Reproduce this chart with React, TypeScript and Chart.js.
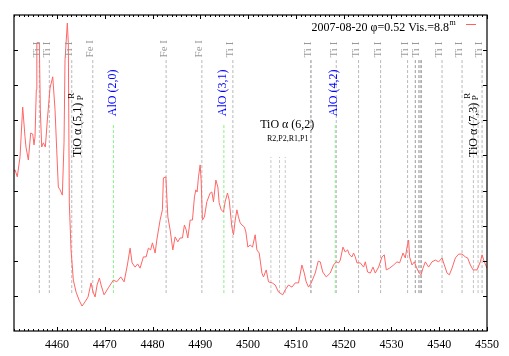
import React, { useEffect, useRef } from 'react';
import { Chart, registerables } from 'chart.js';

Chart.register(...registerables);

// ---- spectrum (wavelength in Å, relative flux) ----
const WAVE = [
  4451.0, 4451.21, 4451.69, 4452.26, 4452.82, 4453.30, 4453.51, 4454.00, 4454.50, 4454.92,
  4455.19, 4455.40, 4455.67, 4455.78, 4456.30, 4456.51, 4456.80, 4457.14, 4457.56, 4457.98,
  4458.54, 4459.11, 4459.59, 4459.94, 4460.28, 4460.64, 4461.12, 4461.47, 4461.68, 4462.16,
  4462.37, 4462.58, 4462.94, 4463.42, 4463.99, 4464.62, 4465.24, 4465.87, 4466.50, 4467.13,
  4467.55, 4467.97, 4468.39, 4468.87, 4469.22, 4469.85, 4470.75, 4471.80, 4472.51, 4473.35,
  4474.04, 4474.73, 4475.30, 4475.72, 4476.35, 4476.87, 4477.39, 4478.08, 4478.65, 4479.13,
  4479.59, 4479.97, 4480.54, 4480.89, 4481.58, 4482.06, 4482.27, 4482.78, 4483.20, 4483.68,
  4484.24, 4484.72, 4485.29, 4485.77, 4486.25, 4486.67, 4487.03, 4487.38, 4487.87, 4488.35,
  4488.77, 4489.06, 4489.33, 4489.61, 4489.96, 4490.17, 4490.44, 4490.86, 4491.36, 4492.06,
  4492.41, 4492.75, 4493.25, 4493.67, 4493.94, 4494.36, 4494.84, 4495.20, 4495.68, 4496.04,
  4496.60, 4496.94, 4497.30, 4497.65, 4497.98, 4498.34, 4498.70, 4499.24, 4499.53, 4499.95,
  4500.43, 4500.92, 4501.48, 4501.84, 4502.32, 4502.89, 4503.22, 4503.79, 4504.27, 4505.04,
  4505.67, 4506.36, 4507.24, 4507.77, 4508.46, 4509.17, 4509.86, 4510.55, 4511.26, 4511.75,
  4512.16, 4512.65, 4513.21, 4514.05, 4514.68, 4515.10, 4515.62, 4516.35, 4517.19, 4517.88,
  4518.45, 4518.97, 4519.29, 4519.85, 4520.33, 4520.82, 4521.23, 4521.74, 4522.07, 4522.43,
  4522.79, 4523.48, 4524.17, 4524.53, 4525.01, 4525.58, 4526.14, 4526.62, 4527.31, 4528.02,
  4528.50, 4528.92, 4529.61, 4530.45, 4531.16, 4531.71, 4532.42, 4532.90, 4533.26, 4533.59,
  4533.80, 4534.31, 4534.79, 4535.21, 4535.69, 4536.19, 4536.61, 4537.09, 4537.78, 4538.49,
  4539.18, 4539.88, 4540.59, 4541.07, 4541.64, 4542.12, 4542.68, 4543.38, 4544.07, 4544.78,
  4545.47, 4545.95, 4546.52, 4547.08, 4547.92, 4548.61, 4548.97, 4549.31, 4549.98,
];
const FLUX = [
  4.55, 4.59, 4.39, 4.96, 6.38, 5.53, 5.24, 4.87, 5.64, 5.61,
  5.30, 5.53, 6.87, 8.21, 8.21, 6.30, 5.24, 5.36, 5.24, 6.01,
  6.92, 7.24, 6.30, 5.16, 4.10, 4.02, 3.87, 5.36, 7.72, 8.77,
  8.21, 3.65, 2.31, 1.45, 1.11, 0.88, 0.71, 0.83, 0.97, 1.37,
  1.11, 0.97, 1.31, 1.51, 1.31, 1.03, 1.23, 1.45, 1.40, 1.54,
  1.40, 1.88, 2.36, 1.94, 1.82, 1.91, 1.79, 2.11, 2.11, 2.36,
  2.31, 2.51, 2.22, 2.59, 3.16, 3.45, 4.36, 4.39, 3.25, 2.88,
  2.31, 2.68, 2.54, 2.65, 2.65, 3.02, 2.88, 2.65, 3.16, 3.16,
  3.82, 4.02, 3.96, 4.39, 4.73, 4.30, 3.16, 3.25, 3.68, 3.93,
  3.96, 3.68, 4.30, 4.10, 3.65, 3.45, 3.39, 3.68, 3.93, 3.73,
  2.96, 2.74, 3.16, 3.45, 3.25, 3.08, 3.02, 2.96, 2.82, 2.39,
  2.45, 2.39, 2.74, 2.31, 2.22, 1.65, 1.54, 1.74, 1.40, 1.37,
  1.31, 1.11, 1.03, 1.17, 1.31, 1.25, 1.37, 1.37, 1.88, 1.65,
  1.40, 1.25, 1.37, 1.65, 1.99, 1.97, 1.68, 1.54, 1.65, 1.88,
  1.97, 1.94, 2.02, 2.39, 2.25, 2.31, 2.17, 2.11, 2.22, 2.11,
  1.94, 1.94, 1.82, 1.97, 1.68, 1.65, 1.82, 1.65, 1.82, 2.11,
  2.17, 1.74, 1.79, 1.88, 1.97, 1.94, 2.22, 2.08, 2.39, 2.59,
  2.11, 1.88, 1.97, 1.82, 1.68, 1.60, 1.79, 1.97, 1.82, 1.97,
  2.02, 1.97, 2.08, 1.88, 1.65, 1.60, 1.79, 2.08, 2.19, 2.19,
  2.11, 2.08, 1.88, 1.74, 1.74, 1.97, 2.17, 2.02, 1.79,
];

const X_TICKS = [4460, 4470, 4480, 4490, 4500, 4510, 4520, 4530, 4540, 4550];

// ---- line identifications ----
const ATOM_WL = [
  4456.30, 4458.39, 4463.09, 4467.49, 4482.84, 4490.32, 4496.81, 4513.15,
  4518.45, 4523.12, 4527.73, 4533.38, 4535.69, 4540.59, 4544.78, 4548.97,
];
const ATOM_LABEL = [
  'Ti I', 'Ti I', 'Ti I', 'Fe I', 'Fe I', 'Fe I', 'Ti I', 'Ti I',
  'Ti I', 'Ti I', 'Ti I', 'Ti I', 'Ti I', 'Ti I', 'Ti I', 'Ti I',
];
const EXTRA_WL = [4534.99, 4535.98, 4536.25];
const ALO_WL = [4471.80, 4494.93, 4518.24];
const ALO_LABEL = ['AlO (2,0)', 'AlO (3,1)', 'AlO (4,2)'];
const TIO62_WL = [4504.77, 4506.57, 4507.77];
const TIO62_TITLE = 'TiO α (6,2)';
const TIO62_SUB = 'R2,P2,R1,P1';
const TIO62_CENTER = 4508.19;
const TIO_HEAD_WL = [4465.18, 4547.15, 4548.13];
const TIO_BAND_WL = [4464.41, 4547.15];
const TIO_BAND_LABEL = ['TiO α (5,1)', 'TiO α (7,3)'];
const LEGEND_TEXT = '2007-08-20 φ=0.52 Vis.=8.8';
const LEGEND_SUP = 'm';

const SERIF = "'Liberation Serif', 'Times New Roman', serif";
const LINE_BOTTOM = 1.08;

function vline(wl: number, top: number, color: string) {
  return {
    type: 'line' as const,
    data: [{ x: wl, y: LINE_BOTTOM }, { x: wl, y: top }],
    borderColor: color,
    borderWidth: 1,
    borderDash: [3, 2],
    pointRadius: 0,
    fill: false,
  };
}

function vtext(ctx: CanvasRenderingContext2D, s: string, x: number, y: number, align: CanvasTextAlign) {
  ctx.save();
  ctx.translate(x, y);
  ctx.rotate(-Math.PI / 2);
  ctx.textAlign = align;
  ctx.textBaseline = 'middle';
  ctx.fillText(s, 0, 0);
  ctx.restore();
}

const decor = {
  id: 'decor',
  afterDatasetsDraw(chart: any) {
    const { ctx, chartArea: a, scales } = chart;
    const xs = scales.x;
    const ys = scales.y;
    ctx.save();

    // frame
    ctx.strokeStyle = '#000';
    ctx.lineWidth = 1.2;
    ctx.strokeRect(a.left, a.top, a.right - a.left, a.bottom - a.top);

    // ticks (inward, mirrored)
    ctx.lineWidth = 1;
    ctx.beginPath();
    for (let w = Math.ceil(xs.min); w <= xs.max; w++) {
      const px = Math.round(xs.getPixelForValue(w)) + 0.5;
      const len = w % 10 === 0 ? 4 : 2;
      ctx.moveTo(px, a.bottom);
      ctx.lineTo(px, a.bottom - len);
      ctx.moveTo(px, a.top);
      ctx.lineTo(px, a.top + len);
    }
    for (let v = ys.min + 1; v < ys.max; v++) {
      const py = Math.round(ys.getPixelForValue(v)) + 0.5;
      ctx.moveTo(a.left, py);
      ctx.lineTo(a.left + 4, py);
      ctx.moveTo(a.right, py);
      ctx.lineTo(a.right - 4, py);
    }
    ctx.stroke();

    // atomic line labels
    ctx.fillStyle = '#999';
    ctx.font = `11px ${SERIF}`;
    ATOM_WL.forEach((w, i) => {
      vtext(ctx, ATOM_LABEL[i], xs.getPixelForValue(w) - 2.5, ys.getPixelForValue(7.79), 'left');
    });

    // AlO labels
    ctx.fillStyle = '#0000ff';
    ctx.font = `12px ${SERIF}`;
    ALO_WL.forEach((w, i) => {
      vtext(ctx, ALO_LABEL[i], xs.getPixelForValue(w) - 1, ys.getPixelForValue(6.78), 'center');
    });

    // TiO band labels
    ctx.fillStyle = '#000';
    TIO_BAND_WL.forEach((w, i) => {
      const px = xs.getPixelForValue(w);
      ctx.font = `12px ${SERIF}`;
      vtext(ctx, TIO_BAND_LABEL[i], px, ys.getPixelForValue(5.73), 'center');
      ctx.font = `9px ${SERIF}`;
      vtext(ctx, 'R', px - 6, ys.getPixelForValue(6.70), 'center');
      vtext(ctx, 'P', px + 2.5, ys.getPixelForValue(6.64), 'center');
    });

    // TiO (6,2)
    ctx.textAlign = 'center';
    ctx.textBaseline = 'middle';
    ctx.font = `12px ${SERIF}`;
    ctx.fillText(TIO62_TITLE, xs.getPixelForValue(TIO62_CENTER), ys.getPixelForValue(5.87));
    ctx.font = `8px ${SERIF}`;
    ctx.fillText(TIO62_SUB, xs.getPixelForValue(TIO62_CENTER) + 0.5, ys.getPixelForValue(5.46));

    // key
    ctx.font = `12px ${SERIF}`;
    ctx.textAlign = 'right';
    ctx.textBaseline = 'alphabetic';
    ctx.fillStyle = '#000';
    const kx = a.right - 32;
    ctx.fillText(LEGEND_TEXT, kx - 6, a.top + 16);
    ctx.font = `8px ${SERIF}`;
    ctx.textAlign = 'left';
    ctx.fillText(LEGEND_SUP, kx - 5.5, a.top + 10);
    ctx.strokeStyle = '#ff6060';
    ctx.lineWidth = 1;
    ctx.beginPath();
    ctx.moveTo(kx + 11, a.top + 9.5);
    ctx.lineTo(kx + 21, a.top + 9.5);
    ctx.stroke();

    ctx.restore();
  },
};

export default function App() {
  const ref = useRef<HTMLCanvasElement>(null);

  useEffect(() => {
    if (!ref.current) return;
    const spectrum = {
      type: 'line' as const,
      data: WAVE.map((w, i) => ({ x: w, y: FLUX[i] })),
      borderColor: '#ff6666',
      borderWidth: 1,
      pointRadius: 0,
      tension: 0,
      fill: false,
    };
    const datasets: any[] = [spectrum];
    ATOM_WL.forEach((w, i) => datasets.push(vline(w, 7.72, i === 7 ? '#888888' : '#b8b8b8')));
    EXTRA_WL.forEach((w) => datasets.push(vline(w, 7.72, '#999999')));
    ALO_WL.forEach((w) => datasets.push(vline(w, 5.87, '#88ee88')));
    TIO62_WL.forEach((w) => datasets.push(vline(w, 4.96, '#c8c8c8')));
    TIO_HEAD_WL.forEach((w) => datasets.push(vline(w, 6.5, '#c0c0c0')));

    const chart = new Chart(ref.current, {
      type: 'line',
      data: { datasets },
      options: {
        animation: false,
        responsive: false,
        devicePixelRatio: 1,
        layout: { padding: { left: 14, top: 15, right: 22, bottom: 0 } },
        plugins: { legend: { display: false }, tooltip: { enabled: false } },
        scales: {
          x: {
            type: 'linear',
            min: 4451,
            max: 4550,
            grid: { display: false, drawTicks: false },
            border: { display: false },
            afterBuildTicks: (scale: any) => {
              scale.ticks = X_TICKS.map((v) => ({ value: v }));
            },
            afterFit: (scale: any) => {
              scale.height = 25;
            },
            ticks: {
              autoSkip: false,
              maxRotation: 0,
              padding: 7,
              color: '#000',
              font: { family: SERIF, size: 12 },
              callback: (v: any) => `${v}`,
            },
          },
          y: {
            type: 'linear',
            min: 0,
            max: 9,
            display: false,
          },
        },
      },
      plugins: [decor],
    });
    return () => chart.destroy();
  }, []);

  return (
    <div style={{ position: 'absolute', left: 0, top: 0, width: 509, height: 356, background: '#fff' }}>
      <canvas ref={ref} width={509} height={356} />
    </div>
  );
}
